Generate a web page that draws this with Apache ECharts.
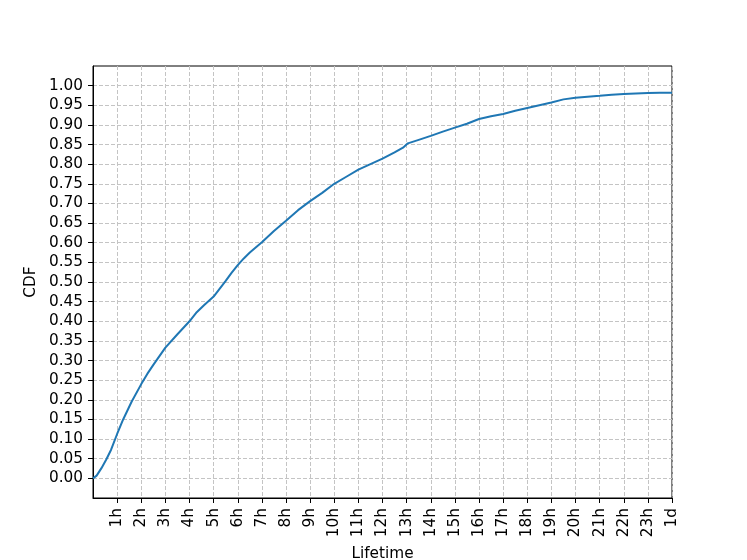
<!DOCTYPE html>
<html>
<head>
<meta charset="utf-8">
<script src="https://cdn.jsdelivr.net/npm/echarts@6/dist/echarts.min.js"></script>
<style>
  html, body { margin: 0; padding: 0; background: #fff; }
  #chart { width: 747px; height: 560px; }
</style>
</head>
<body>
<div id="chart"></div>
<script>
  // lifetime in hours, cdf value
  var hours = [0, 0.15, 0.35, 0.55, 0.75, 1.0, 1.25, 1.6, 2.0, 2.25, 2.5, 3.0, 3.5, 4.0, 4.3, 4.6, 5.0, 5.5,
    5.75, 6.0, 6.25, 6.5, 7.0, 7.5, 8.0, 8.5, 9.0, 9.5, 10.0, 10.5, 11.0, 11.5, 12.0, 12.5, 12.85, 13.05,
    13.5, 14.0, 14.5, 15.0, 15.5, 16.0, 16.5, 17.0, 17.5, 18.0, 18.5, 19.0, 19.5, 20.0, 20.5,
    21.0, 21.5, 22.0, 22.5, 23.0, 23.5, 24.0];
  var cdf = [0, 0.007, 0.026, 0.048, 0.073, 0.113, 0.15, 0.195, 0.24, 0.266, 0.289, 0.333, 0.367, 0.40, 0.423, 0.441, 0.463, 0.503,
    0.524, 0.543, 0.56, 0.575, 0.601, 0.63, 0.656, 0.683, 0.706, 0.727, 0.75, 0.768, 0.786, 0.80, 0.814, 0.83, 0.842, 0.853,
    0.862, 0.872, 0.883, 0.893, 0.903, 0.915, 0.922, 0.928, 0.936, 0.943, 0.95, 0.957, 0.965, 0.969, 0.972,
    0.974, 0.977, 0.979, 0.98, 0.981, 0.982, 0.982];
  var xTickValues = [1, 2, 3, 4, 5, 6, 7, 8, 9, 10, 11, 12, 13, 14, 15, 16, 17, 18, 19, 20, 21, 22, 23, 24];
  var xTickLabels = ['1h', '2h', '3h', '4h', '5h', '6h', '7h', '8h', '9h', '10h', '11h', '12h',
    '13h', '14h', '15h', '16h', '17h', '18h', '19h', '20h', '21h', '22h', '23h', '1d'];
  var yTickValues = [0, 0.05, 0.1, 0.15, 0.2, 0.25, 0.3, 0.35, 0.4, 0.45, 0.5, 0.55, 0.6, 0.65, 0.7,
    0.75, 0.8, 0.85, 0.9, 0.95, 1.0];

  var points = [];
  for (var i = 0; i < hours.length; i++) {
    points.push([hours[i], cdf[i]]);
  }

  var font = 'DejaVu Sans';
  var fs = 15.3;
  var myChart = echarts.init(document.getElementById('chart'));
  var option = {
    animation: false,
    backgroundColor: '#fff',
    grid: {
      left: 93, right: 75, top: 66, bottom: 62,
      outerBoundsMode: 'none',
      containLabel: false,
      show: true, borderColor: '#000', borderWidth: 1, backgroundColor: 'transparent'
    },
    xAxis: {
      type: 'value',
      min: 0, max: 24, interval: 1,
      name: 'Lifetime',
      nameLocation: 'middle',
      nameGap: 49,
      nameTextStyle: { fontFamily: font, fontSize: fs, color: '#000' },
      axisLine: { show: true, onZero: false, lineStyle: { color: '#000', width: 1 } },
      axisTick: { show: true, length: 5, customValues: xTickValues, lineStyle: { color: '#000' } },
      axisLabel: {
        rotate: 90, margin: 10, fontFamily: font, fontSize: fs, color: '#000',
        customValues: xTickValues,
        formatter: function (v) { return xTickLabels[Math.round(v) - 1] || ''; }
      },
      splitLine: { show: true, lineStyle: { color: '#c4c4c4', type: [4, 2], width: 1 } }
    },
    yAxis: {
      type: 'value',
      min: -0.05, max: 1.05, interval: 0.05,
      name: 'CDF',
      nameLocation: 'middle',
      nameGap: 54,
      nameTextStyle: { fontFamily: font, fontSize: fs, color: '#000' },
      axisLine: { show: true, onZero: false, lineStyle: { color: '#000', width: 1 } },
      axisTick: { show: true, length: 5, customValues: yTickValues, lineStyle: { color: '#000' } },
      axisLabel: {
        margin: 10, fontFamily: font, fontSize: fs, color: '#000',
        customValues: yTickValues,
        formatter: function (v) { return v.toFixed(2); }
      },
      splitLine: { show: true, lineStyle: { color: '#c4c4c4', type: [4, 2], width: 1 } }
    },
    series: [
      {
        type: 'line',
        data: points,
        showSymbol: false,
        smooth: false,
        lineStyle: { color: '#1f77b4', width: 2 },
        itemStyle: { color: '#1f77b4' }
      }
    ]
  };
  myChart.setOption(option);
</script>
</body>
</html>
